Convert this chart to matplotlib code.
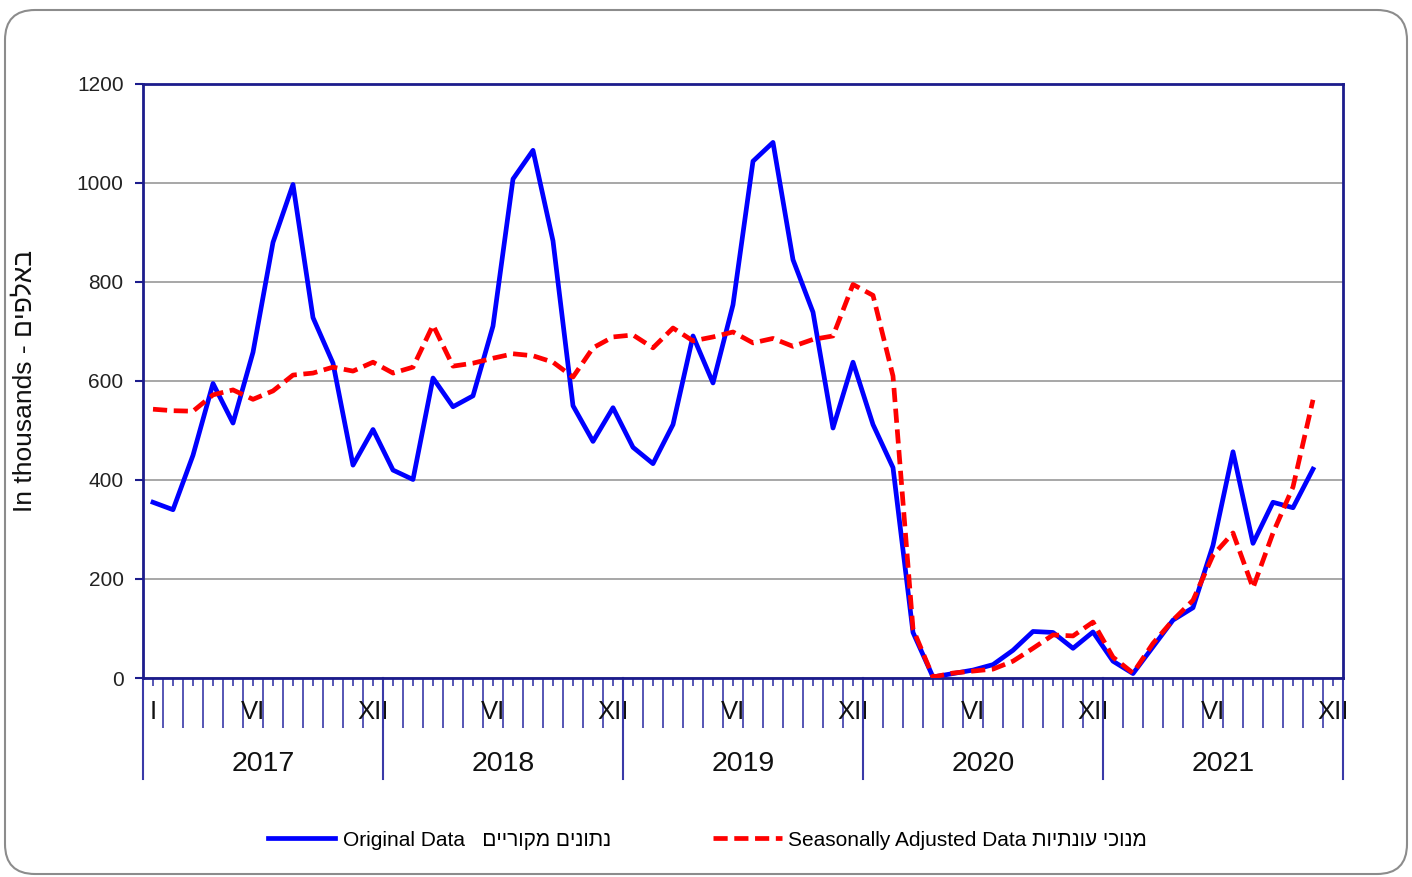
import matplotlib
matplotlib.use('Agg')
import matplotlib.pyplot as plt
from matplotlib.patches import FancyBboxPatch
from matplotlib.transforms import IdentityTransform
import numpy as np

plt.rcParams['font.family'] = ['Liberation Sans', 'DejaVu Sans']

# ---- data (thousands), monthly Jan 2017 - Nov 2021 ----
years = ['2017', '2018', '2019', '2020', '2021']
original = [355, 340, 450, 595, 515, 658, 880, 997, 728, 636, 430, 502,
            420, 401, 606, 548, 570, 711, 1008, 1066, 883, 550, 478, 546,
            466, 433, 512, 691, 596, 754, 1044, 1082, 845, 739, 505, 638,
            512, 425, 92, 2, 9, 16, 27, 56, 94, 92, 60, 93,
            34, 9, 63, 117, 142, 268, 457, 272, 355, 344, 422]
adjusted = [543, 540, 539, 572, 582, 563, 580, 612, 616, 628, 620, 638,
            616, 628, 713, 630, 636, 646, 655, 651, 638, 608, 667, 689,
            693, 667, 707, 681, 689, 699, 677, 686, 670, 684, 691, 795,
            773, 610, 99, 2, 10, 14, 18, 34, 60, 87, 85, 113,
            42, 10, 70, 117, 157, 248, 293, 182, 293, 386, 562]
first_year_months = ['I', '', '', '', '', 'VI', '', '', '', '', '', 'XII']
other_year_months = ['', '', '', '', '', 'VI', '', '', '', '', '', 'XII']
y_ticks = [0, 200, 400, 600, 800, 1000, 1200]

label_orig = 'Original Data   ' + 'נתונים מקוריים'[::-1]
label_adj = 'Seasonally Adjusted Data ' + 'מנוכי עונתיות'[::-1]
y_label = 'In thousands - ' + 'באלפים'[::-1]

NAVY = '#1c1c8c'
TICKC = '#3a3aa8'

W, H = 1412, 877
fig = plt.figure(figsize=(W / 100, H / 100), dpi=100)
fig.patch.set_facecolor('white')

ax = fig.add_axes([143 / W, 1 - 678 / H, 1200 / W, 594 / H])

n_months = len(years) * 12
x = np.arange(len(original))
l1, = ax.plot(x, original, color='#0000FF', lw=3.4, zorder=3)
l2, = ax.plot(x, adjusted, color='#FF0000', lw=3.4, dashes=(3, 1.4), zorder=4)

ax.set_xlim(-0.5, n_months - 0.5)
ax.set_ylim(0, 1200)
ax.set_yticks(y_ticks)
ax.set_yticklabels([str(v) for v in y_ticks])
ax.yaxis.grid(True, color='#a0a0a0', lw=1.3)
ax.set_axisbelow(True)
for s in ax.spines.values():
    s.set_color(NAVY)
    s.set_linewidth(2)
ax.tick_params(axis='y', length=6, width=1.5, color=NAVY, labelsize=15,
               pad=8, labelcolor='#222222')

# x axis: long lines at month boundaries, short ticks at month centers
ax.set_xticks(np.arange(0.5, n_months - 1, 1))
ax.set_xticklabels([])
ax.tick_params(axis='x', which='major', length=36, width=1.2, color=TICKC)
month_labels = first_year_months + other_year_months * (len(years) - 1)
ax.set_xticks(np.arange(n_months), minor=True)
ax.set_xticklabels(month_labels, minor=True)
ax.tick_params(axis='x', which='minor', length=6, width=1.2, color=TICKC,
               labelsize=18.5, pad=10, labelcolor='#111111')

trans = ax.get_xaxis_transform()
for k in range(len(years) + 1):
    b = k * 12 - 0.5
    ax.plot([b, b], [0, -0.170], transform=trans, clip_on=False,
            color=TICKC, lw=1.5)
for k, yr in enumerate(years):
    ax.text(k * 12 + 5.5, -0.1440, yr, transform=trans, ha='center',
            va='center', fontsize=20.5, color='#111111')

fig.text(25 / W, 1 - 381 / H, y_label, rotation=90, ha='center', va='center',
         fontsize=19, color='#111111')

leg1 = fig.legend(handles=[l1], labels=[label_orig], loc='center left',
                  bbox_to_anchor=(268 / W, 1 - 840 / H), frameon=False,
                  borderpad=0, borderaxespad=0, handlelength=3.2,
                  handletextpad=0.4, fontsize=15)
leg2 = fig.legend(handles=[l2], labels=[label_adj], loc='center left',
                  bbox_to_anchor=(713 / W, 1 - 840 / H), frameon=False,
                  borderpad=0, borderaxespad=0, handlelength=3.3,
                  handletextpad=0.3, fontsize=15)

border = FancyBboxPatch((5, 3), 1402, 864,
                        boxstyle='round,pad=0,rounding_size=30',
                        transform=IdentityTransform(), fill=False,
                        edgecolor='#8c8c8c', lw=1.5)
fig.add_artist(border)

fig.savefig('out.png', dpi=100)
